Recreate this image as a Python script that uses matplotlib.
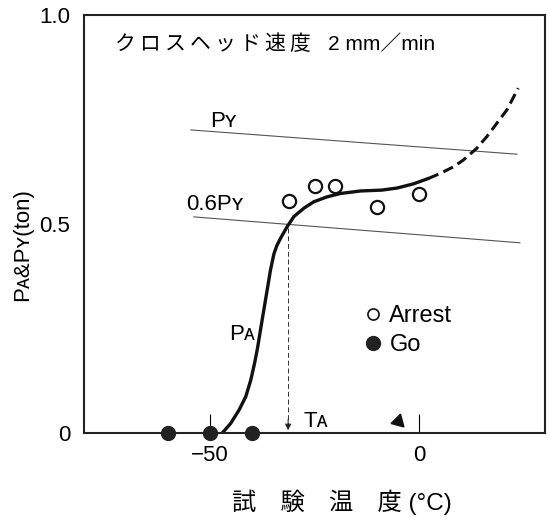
import numpy as np
import matplotlib
matplotlib.use('Agg')
import matplotlib.pyplot as plt
from matplotlib.lines import Line2D

plt.rcParams['font.family'] = ['Liberation Sans', 'Noto Sans CJK JP', 'DejaVu Sans']

# test results
go_T = [-60, -50, -40]
go_P = [0, 0, 0]
arrest_T = [-31, -25, -20, -10, 0]
arrest_P = [0.555, 0.59, 0.59, 0.54, 0.572]

# P_Y and 0.6 P_Y lines
py_T = [-54.5, 23.3]
py_P = [0.725, 0.667]
py6_T = [-53.8, 24.0]
py6_P = [0.517, 0.455]

# P_A curve (solid part, then dashed extension)
pa_T = [-47.0, -45.0, -43.0, -41.4, -40.2, -39.3, -38.6, -37.9, -37.1, -36.3,
        -35.5, -34.7, -34.0, -33.1, -31.5, -29.9, -27.5, -25.2, -22.0, -18.8,
        -14.0, -9.0, -5.3, -1.4, 2.2]
pa_P = [0.0, 0.023, 0.055, 0.087, 0.127, 0.167, 0.203, 0.246, 0.294, 0.342,
        0.39, 0.428, 0.448, 0.466, 0.494, 0.518, 0.538, 0.553, 0.565, 0.573,
        0.579, 0.581, 0.586, 0.596, 0.609]
ext_T = [2.2, 5.0, 8.2, 10.5, 13.7, 16.1, 18.5, 20.9, 23.6]
ext_P = [0.609, 0.621, 0.637, 0.653, 0.681, 0.709, 0.741, 0.773, 0.825]

T_A = -31.3
P_A_at_TA = 0.49

fig = plt.figure(figsize=(5.5, 5.17), dpi=100)
ax = fig.add_axes([0.1527, 0.1625, 0.8383, 0.8085])
ax.set_xlim(-80, 30)
ax.set_ylim(0, 1.0)

ax.plot(py_T, py_P, color='#555555', lw=0.8)
ax.plot(py6_T, py6_P, color='#555555', lw=0.8)
ax.plot(pa_T, pa_P, color='#111111', lw=2.4, solid_capstyle='round',
        solid_joinstyle='round')
ax.plot(ext_T, ext_P, color='#111111', lw=2.2, ls=(0, (3.5, 1.8)))

# T_A marker
ax.plot([T_A, T_A], [P_A_at_TA, 0.02], color='#333333', lw=0.7, ls=(0, (5, 3)))
ax.annotate('', xy=(T_A, 0.0), xytext=(T_A, 0.04),
            arrowprops=dict(arrowstyle='-|>', color='#222222', lw=0.7,
                            mutation_scale=9))

ax.plot(arrest_T, arrest_P, 'o', mfc='white', mec='#111111', mew=1.6, ms=9.5)
ax.plot(go_T, go_P, 'o', color='#222222', ms=10, clip_on=False, zorder=5)
ax.plot([-5], [0.028], marker=(3, 0, -135), color='#111111', ms=11, ls='none')

ax.text(-49.8, 0.732, 'Pʏ', fontsize=16)
ax.text(-55.7, 0.533, '0.6Pʏ', fontsize=16)
ax.text(-45.3, 0.222, 'Pᴀ', fontsize=16)
ax.text(-27.6, 0.014, 'Tᴀ', fontsize=16)
title = '\u2009'.join('クロスヘッド速度') + '   2 mm／min'
ax.text(0.067, 0.93, title, transform=ax.transAxes, fontsize=15, va='center')

h1 = Line2D([], [], ls='none', marker='o', mfc='white', mec='#111111', mew=1.2, ms=8)
h2 = Line2D([], [], ls='none', marker='o', color='#222222', ms=10)
ax.legend([h1, h2], ['Arrest', 'Go'], frameon=False, fontsize=17,
          loc='center left', bbox_to_anchor=(0.56, 0.245),
          handlelength=0.8, handletextpad=0.3, labelspacing=0.3)

ax.set_xticks([-50, 0])
ax.set_xticklabels(['−50', '0'])
ax.set_yticks([0, 0.5, 1.0])
ax.set_yticklabels(['0', '0.5', '1.0'])
ax.tick_params(axis='x', direction='in', length=14, width=0.8, pad=9, labelsize=16)
ax.tick_params(axis='y', length=0, pad=10, labelsize=16)
for s in ax.spines.values():
    s.set_linewidth(1.5)
    s.set_color('#222222')

ax.set_ylabel('Pᴀ&Pʏ(ton)', fontsize=16)
ax.yaxis.set_label_coords(-0.11, 0.45)
fig.text(0.622, 0.029, '試\u3000験\u3000温\u3000度 (°C)', fontsize=17.5,
         ha='center', va='center')

fig.savefig('out.png', dpi=100)
